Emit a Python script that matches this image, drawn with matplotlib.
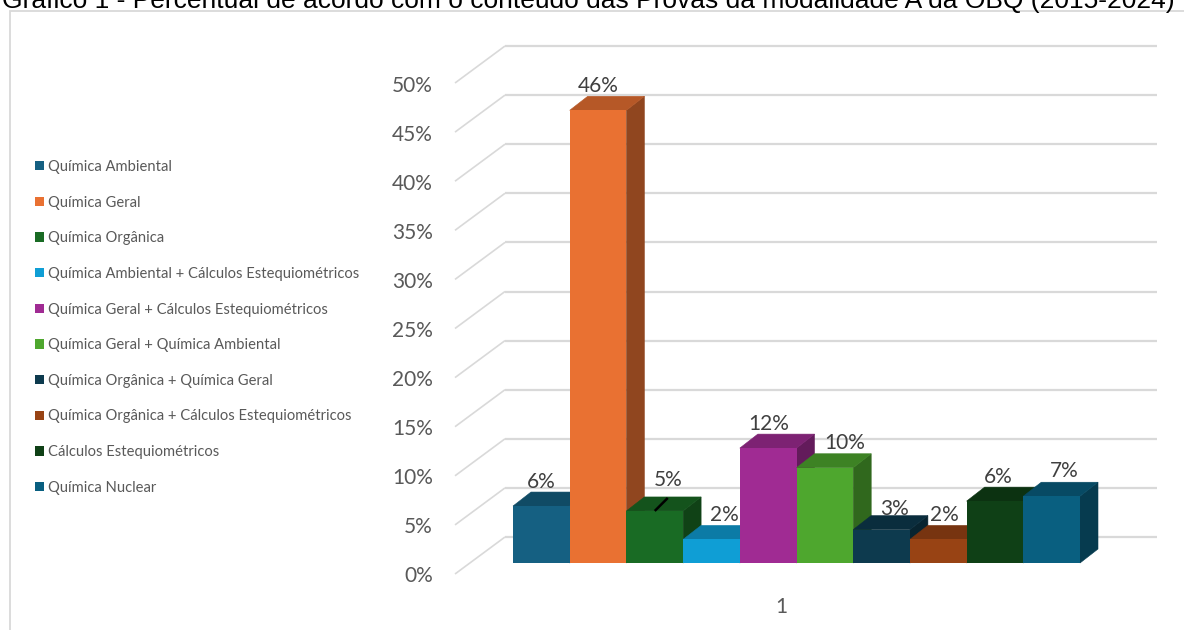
import matplotlib
matplotlib.use('Agg')
import matplotlib.pyplot as plt
from matplotlib.patches import Polygon, Rectangle
import matplotlib.colors as mcolors
import numpy as np

# ---------------- data ----------------
categories = [
    'Química Ambiental',
    'Química Geral',
    'Química Orgânica',
    'Química Ambiental + Cálculos Estequiométricos',
    'Química Geral + Cálculos Estequiométricos',
    'Química Geral + Química Ambiental',
    'Química Orgânica + Química Geral',
    'Química Orgânica + Cálculos Estequiométricos',
    'Cálculos Estequiométricos',
    'Química Nuclear',
]
values = [5.8, 46.1, 5.3, 2.4, 11.7, 9.7, 3.4, 2.4, 6.3, 6.8]
y_ticks = [0, 5, 10, 15, 20, 25, 30, 35, 40, 45, 50]
x_label = '1'
title = 'Gráfico 1 - Percentual de acordo com o conteúdo das Provas da modalidade A da OBQ (2015-2024)'

# ---------------- style ----------------
colors = ['#156082', '#E97132', '#196B24', '#0F9ED5', '#A02B93',
          '#4EA72E', '#0D3A4E', '#984314', '#0F4016', '#095F80']
label_dx_px = [0, 0, 13, 13, 1, 20, 13, 6, 3, 13]
label_dy_px = [10, 10, 17, 10, 10, 11, 7, 10, 10, 11]
leader = [False, False, True, False, False, False, False, False, False, False]

W, H = 1184, 630
DPI = 100
PX_X = 56.7   # px per category unit
PX_Y = 9.82   # px per percent

GRID = '#d9d9d9'
TXT = '#595959'
LBL = '#404040'
FONT = 'Lato'
FS = 15


def shade(c, f):
    r, g, b = mcolors.to_rgb(c)
    return (r * f, g * f, b * f)


def d(px_x, px_y):
    return px_x / PX_X, px_y / PX_Y


fig = plt.figure(figsize=(W / DPI, H / DPI), dpi=DPI)
fig.patch.set_facecolor('white')

# chart border (only top/left visible)
fig.patches.append(Rectangle((10 / W, -0.2), 1.5, (1 - 11 / H) + 0.2,
                             transform=fig.transFigure, fill=False,
                             ec=GRID, lw=1.3, zorder=0))

fig.text(2 / W, 1 - 8 / H, title, family='Liberation Sans', fontsize=19,
         va='baseline', ha='left', color='black')

n = len(values)
ax = fig.add_axes([513 / W, (H - 563) / H, (n * PX_X) / W, (50 * PX_Y) / H])
ax.set_xlim(0, n)
ax.set_ylim(0, 50)
ax.axis('off')

bd_x, bd_y = d(18, 14)     # bar depth
fp_x, fp_y = d(-15, -11)   # front plane of box
bp_x, bp_y = d(35, 26)     # back wall
xL_front = -58 / PX_X
xL_back = xL_front + d(50, 0)[0]
xR = 644 / PX_X

# gridlines on left wall and back wall + tick labels
for t in y_ticks:
    ax.plot([xL_front, xL_back], [t + fp_y, t + bp_y], color=GRID, lw=1.2,
            clip_on=False, zorder=0, solid_capstyle='butt')
    ax.plot([xL_back, xR], [t + bp_y, t + bp_y], color=GRID, lw=1.6,
            clip_on=False, zorder=0, solid_capstyle='butt')
    ax.annotate(f'{t}%', xy=(-80 / PX_X, t + fp_y), xytext=(0, -2.5 * 0.72),
                textcoords='offset points', ha='right', va='center',
                fontsize=FS, color=TXT, family=FONT, annotation_clip=False)

# bars
x = np.arange(n)
bars = ax.bar(x, values, width=1.0, align='edge', color=colors,
              label=categories, linewidth=0, clip_on=False)
for i, (b, v, c) in enumerate(zip(bars, values, colors)):
    b.set_zorder(3 + 2 * i)
    top = Polygon([(i, v), (i + 1, v), (i + 1 + bd_x, v + bd_y), (i + bd_x, v + bd_y)],
                  closed=True, fc=shade(c, 0.78), ec=shade(c, 0.78), lw=0.4,
                  zorder=2 + 2 * i, clip_on=False)
    side = Polygon([(i + 1, 0), (i + 1, v), (i + 1 + bd_x, v + bd_y), (i + 1 + bd_x, bd_y)],
                   closed=True, fc=shade(c, 0.62), ec=shade(c, 0.62), lw=0.4,
                   zorder=2 + 2 * i, clip_on=False)
    ax.add_patch(side)
    ax.add_patch(top)
    ax.annotate(f'{round(v)}%', xy=(i + 0.5, v),
                xytext=(label_dx_px[i] * 0.72, (14 + label_dy_px[i]) * 0.72),
                textcoords='offset points', ha='center', va='center',
                fontsize=FS, color=LBL, family=FONT, zorder=40,
                annotation_clip=False)
    if leader[i]:
        lx, ly = d(13, 13)
        ax.plot([i + 0.5, i + 0.5 + lx], [v, v + ly], color='black', lw=1.8,
                zorder=41, clip_on=False, solid_capstyle='butt')

# category label
ax.annotate(x_label, xy=(n / 2 + fp_x, fp_y), xytext=(0, -33 * 0.72),
            textcoords='offset points', ha='center', va='center',
            fontsize=FS, color=TXT, family=FONT, annotation_clip=False)

# legend
leg = fig.legend(handles=list(bars), labels=categories, loc='upper left',
                 bbox_to_anchor=(35 / W, 1 - 160 / H), frameon=False,
                 handlelength=0.6, handleheight=0.6, handletextpad=0.28,
                 labelspacing=1.47, borderaxespad=0, borderpad=0,
                 prop={'family': FONT, 'size': 10.6})
for t in leg.get_texts():
    t.set_color(TXT)

fig.savefig('out.png', dpi=DPI)
